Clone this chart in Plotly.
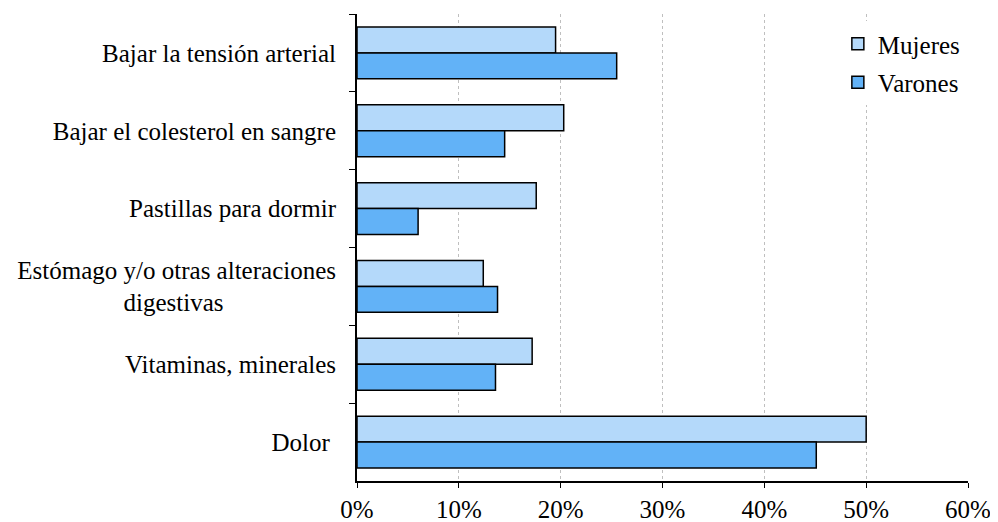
import plotly.graph_objects as go

categories = [
    "Bajar la tensión arterial",
    "Bajar el colesterol en sangre",
    "Pastillas para dormir",
    "Estómago y/o otras alteraciones<br>digestivas" + "\u00a0" * 18,
    "Vitaminas, minerales",
    "Dolor\u00a0",
]
mujeres = [19.5, 20.3, 17.6, 12.4, 17.2, 50.0]
varones = [25.5, 14.5, 6.0, 13.8, 13.6, 45.1]
x_ticks = [0, 10, 20, 30, 40, 50, 60]
x_ticklabels = [f"{v}%" for v in x_ticks]

FONT = "Liberation Serif"
FS = 25

fig = go.Figure()
fig.add_trace(go.Bar(
    y=categories, x=mujeres, name="Mujeres", orientation="h", legendgroup="m",
    marker=dict(color="#B4D9FA", line=dict(color="black", width=1.5)),
))
fig.add_trace(go.Bar(
    y=categories, x=varones, name="Varones", orientation="h", legendgroup="v",
    marker=dict(color="#62B2F7", line=dict(color="black", width=1.5)),
))

fig.update_layout(
    width=998, height=522,
    margin=dict(l=349, r=38, t=6, b=49),
    paper_bgcolor="white", plot_bgcolor="white",
    barmode="group", bargap=0.333, bargroupgap=0,
    font=dict(family=FONT, size=FS, color="black"),
    showlegend=True,
    legend=dict(x=0.787, y=0.985, xanchor="left", yanchor="top",
                bgcolor="white", font=dict(family=FONT, size=FS),
                traceorder="grouped", tracegroupgap=3, itemwidth=30),
)
fig.update_xaxes(
    range=[0, 60], tickvals=x_ticks, ticktext=x_ticklabels,
    showgrid=True, gridcolor="#BFBFBF", griddash="dot", gridwidth=1,
    showline=True, linecolor="black", linewidth=2,
    ticks="outside", ticklen=5, tickcolor="black", zeroline=False,
)
fig.update_yaxes(
    autorange="reversed", type="category",
    showline=True, linecolor="black", linewidth=2,
    ticks="outside", ticklen=6, tickcolor="black", tickson="boundaries",
    ticklabelstandoff=14, showgrid=False,
)

fig.write_html("out.html")
